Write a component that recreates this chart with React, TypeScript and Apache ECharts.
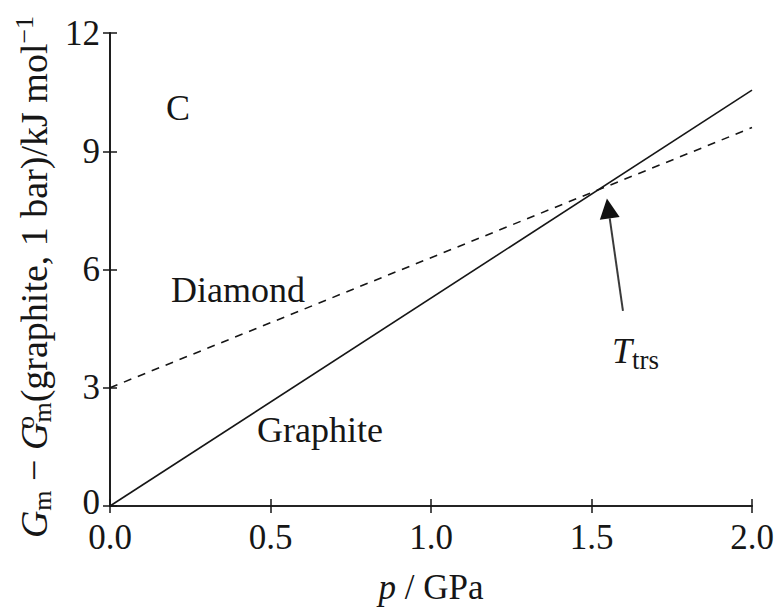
import React, { useEffect, useRef } from "react";
import * as echarts from "echarts";

// Pressure (GPa) at the two ends of each straight line
const pressure = [0.0, 2.0];
// G_m − G°_m(graphite, 1 bar) in kJ/mol
const graphite = [0.0, 10.55];
const diamond = [3.0, 9.6];

// Axis ranges and steps
const xMin = 0;
const xMax = 2.0;
const xStep = 0.5;
const yMin = 0;
const yMax = 12;
const yStep = 3;

// Transition-point arrow (data coordinates): tip near the crossing, tail above the label
const arrowTip = [1.548, 7.8];
const arrowTail = [1.598, 4.95];

const SERIF = '"Liberation Serif", "Times New Roman", Times, serif';
const INK = "#161616";

export default function App() {
  const ref = useRef<HTMLDivElement>(null);

  useEffect(() => {
    if (!ref.current) return;
    const chart = echarts.init(ref.current, null, { renderer: "svg" });

    const axisLine = { show: true, lineStyle: { color: INK, width: 1.6 } };
    const tick = { show: true, inside: true, length: 7, lineStyle: { color: INK, width: 1.5 } };

    const option: any = {
      animation: false,
      backgroundColor: "#ffffff",
      grid: { left: 110, right: 25, top: 33, bottom: 101, containLabel: false },
      xAxis: [
        {
          type: "value",
          min: xMin,
          max: xMax,
          interval: xStep,
          position: "bottom",
          axisLine,
          axisTick: tick,
          splitLine: { show: false },
          axisLabel: {
            show: true,
            color: INK,
            fontFamily: SERIF,
            fontSize: 35,
            lineHeight: 30,
            margin: 16,
            showMinLabel: true,
            showMaxLabel: true,
            formatter: (v: number) => v.toFixed(1),
          },
          name: "{i|p} / GPa",
          nameLocation: "middle",
          nameGap: 64,
          nameTextStyle: {
            color: INK,
            fontFamily: SERIF,
            fontSize: 35,
            rich: {
              i: { fontStyle: "italic", fontFamily: SERIF, fontSize: 35, color: INK },
            },
          },
        },
        {
          type: "value",
          min: xMin,
          max: xMax,
          interval: xStep,
          position: "top",
          axisLine,
          axisTick: tick,
          axisLabel: { show: false },
          splitLine: { show: false },
        },
      ],
      yAxis: [
        {
          type: "value",
          min: yMin,
          max: yMax,
          interval: yStep,
          position: "left",
          axisLine,
          axisTick: tick,
          splitLine: { show: false },
          axisLabel: {
            show: true,
            color: INK,
            fontFamily: SERIF,
            fontSize: 35,
            lineHeight: 26,
            margin: 10,
            showMinLabel: true,
            showMaxLabel: true,
            // the zero label sits a little higher so it clears the 0.0 below it
            formatter: (v: number) => (v === 0 ? "{z|0}" : String(v)),
            rich: {
              z: { fontFamily: SERIF, fontSize: 35, color: INK, lineHeight: 26, padding: [0, 0, 8, 0] },
            },
          },
        },
        {
          type: "value",
          min: yMin,
          max: yMax,
          interval: yStep,
          position: "right",
          axisLine,
          axisTick: tick,
          axisLabel: { show: false },
          splitLine: { show: false },
        },
      ],
      series: [
        {
          name: "Graphite",
          type: "line",
          data: pressure.map((p, i) => [p, graphite[i]]),
          symbol: "none",
          lineStyle: { color: INK, width: 1.6, type: "solid" },
          z: 3,
        },
        {
          name: "Diamond",
          type: "line",
          data: pressure.map((p, i) => [p, diamond[i]]),
          symbol: "none",
          lineStyle: { color: INK, width: 1.6, type: [8, 7] },
          z: 3,
        },
      ],
    };
    chart.setOption(option);

    const label = (text: string, x: number, y: number, extra: any = {}) => ({
      type: "text",
      x,
      y,
      z: 10,
      style: {
        text,
        fill: INK,
        font: `36px ${SERIF}`,
        align: "left",
        verticalAlign: "middle",
        ...extra,
      },
    });

    // Arrow from the label up to the crossing of the two lines
    const tip = chart.convertToPixel({ gridIndex: 0 }, arrowTip) as number[];
    const tail = chart.convertToPixel({ gridIndex: 0 }, arrowTail) as number[];
    const dx = tip[0] - tail[0];
    const dy = tip[1] - tail[1];
    const len = Math.hypot(dx, dy);
    const ux = dx / len;
    const uy = dy / len;
    const headLen = 20;
    const headHalf = 10;
    const bx = tip[0] - ux * headLen;
    const by = tip[1] - uy * headLen;
    const nx = -uy;
    const ny = ux;

    const yTitleRich = {
      i: { fontStyle: "italic", fontFamily: SERIF, fontSize: 38, fill: INK },
      r: { fontFamily: SERIF, fontSize: 38, fill: INK },
      sub: { fontFamily: SERIF, fontSize: 26, fill: INK, padding: [16, 0, 0, 0] },
      supz: { fontFamily: SERIF, fontSize: 26, fill: INK, width: 0, padding: [0, 0, 18, 0] },
      sup: { fontFamily: SERIF, fontSize: 26, fill: INK, padding: [0, 0, 20, 0] },
    };

    chart.setOption({
      graphic: [
        label("C", 166, 108),
        label("Diamond", 171, 290),
        label("Graphite", 257, 430),
        {
          type: "text",
          x: 612,
          y: 351,
          z: 10,
          style: {
            text: "{T|T}{s|trs}",
            align: "left",
            verticalAlign: "middle",
            rich: {
              T: { fontStyle: "italic", fontFamily: SERIF, fontSize: 36, fill: INK },
              s: { fontFamily: SERIF, fontSize: 27, fill: INK, padding: [18, 0, 0, 0] },
            },
          },
        },
        {
          type: "text",
          x: 34,
          y: 277,
          rotation: Math.PI / 2,
          z: 10,
          style: {
            text:
              "{i|G}{sub|m}{r| − }{i|G}{supz|o}{sub|m}{r|(graphite, 1 bar)/kJ mol}{sup|−1}",
            align: "center",
            verticalAlign: "middle",
            rich: yTitleRich,
          },
        },
        {
          type: "line",
          z: 9,
          shape: { x1: tail[0], y1: tail[1], x2: bx, y2: by },
          style: { stroke: "#3a3a3a", lineWidth: 2 },
        },
        {
          type: "polygon",
          z: 9,
          shape: {
            points: [
              [tip[0], tip[1]],
              [bx + nx * headHalf, by + ny * headHalf],
              [bx - nx * headHalf, by - ny * headHalf],
            ],
          },
          style: { fill: "#111111" },
        },
      ],
    });

    return () => chart.dispose();
  }, []);

  return <div ref={ref} style={{ width: 777, height: 610, position: "absolute", left: 0, top: 0 }} />;
}
